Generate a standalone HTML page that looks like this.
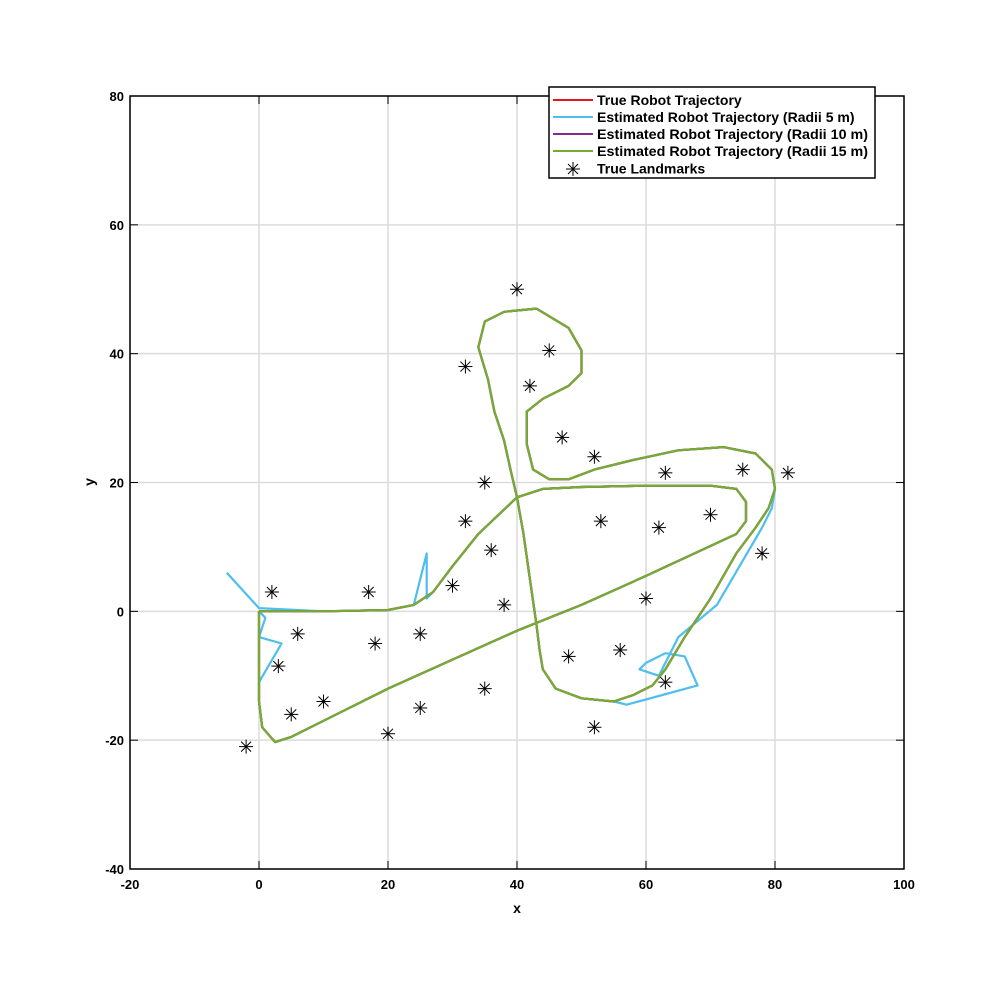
<!DOCTYPE html>
<html><head><meta charset="utf-8">
<style>
body{margin:0;background:#fff;}
svg{display:block;font-family:"Liberation Sans",Arial,sans-serif;}
</style></head>
<body>
<svg id="chart" width="1000" height="1000" viewBox="0 0 1000 1000" xmlns="http://www.w3.org/2000/svg">
<rect x="0" y="0" width="1000" height="1000" fill="#fff"/>
<g id="grid"></g>
<g id="series"></g>
<g id="axes"></g>
<g id="legend">
  <rect x="549" y="87" width="326" height="91" fill="#fff" stroke="#000" stroke-width="1.5"/>
  <line x1="553" y1="100" x2="593" y2="100" stroke="#e8131d" stroke-width="2"/>
  <text x="597" y="105" font-size="14" font-weight="bold">True Robot Trajectory</text>
  <line x1="553" y1="117" x2="593" y2="117" stroke="#4dbeee" stroke-width="2"/>
  <text x="597" y="122" font-size="14" font-weight="bold">Estimated Robot Trajectory (Radii 5 m)</text>
  <line x1="553" y1="134" x2="593" y2="134" stroke="#7e2f8e" stroke-width="2"/>
  <text x="597" y="139" font-size="14" font-weight="bold" textLength="271" lengthAdjust="spacingAndGlyphs">Estimated Robot Trajectory (Radii 10 m)</text>
  <line x1="553" y1="151" x2="593" y2="151" stroke="#77ac30" stroke-width="2"/>
  <text x="597" y="156" font-size="14" font-weight="bold" textLength="271" lengthAdjust="spacingAndGlyphs">Estimated Robot Trajectory (Radii 15 m)</text>
  <g stroke="#000" stroke-width="1">
    <line x1="566" y1="169" x2="580" y2="169"/><line x1="573" y1="162" x2="573" y2="176"/>
    <line x1="568" y1="164" x2="578" y2="174"/><line x1="578" y1="164" x2="568" y2="174"/>
  </g>
  <text x="597" y="173.5" font-size="14" font-weight="bold">True Landmarks</text>
</g>
</svg>
<script>
const xTicks=[-20,0,20,40,60,80,100];
const yTicks=[-40,-20,0,20,40,60,80];
const trueX=[0,10,20,24,27,30,34,40,44,50,60,70,74,75.5,75.5,74,60,50,40,30,20,10,5,2.5,0.5,0,0,0, 40,41,42,43,43.5,44,46,50,55,58,61,63,66,70,74,77,79,80,79.5,77,72,65,58,52,48,45,42.5,41.5,41.5,44,48,50,50,48,43,38,35,34,35.5,36.5,38,39,40];
const trueY=[0,0,0.2,1,3,7,12,17.7,19,19.3,19.5,19.5,19,17,14,12,5.5,1,-3,-7.5,-12,-17,-19.5,-20.3,-18,-14,-8,0, 17.7,12,5,-2,-6,-9,-12,-13.5,-14,-13,-11.5,-9,-4,2,9,13,16,19,22,24.5,25.5,25,23.5,22,20.5,20.5,22,26,31,33,35,37,40.5,44,47,46.5,45,41,36,31,26.5,22,17.7];
const r5X=[-5,0,10,20,24,26,26,27,30,34,40,44,50,60,70,74,75.5,75.5,74,60,50,40,30,20,10,5,2.5,0.5,0,0,3.5,0,1,0, 40,41,42,43,43.5,44,46,50,55,57,68,66,63,60,59,62,65,71,78,79.5,80,79.5,77,72,65,58,52,48,45,42.5,41.5,41.5,44,48,50,50,48,43,38,35,34,35.5,36.5,38,39,40];
const r5Y=[6,0.5,0,0.2,1,9,2,3,7,12,17.7,19,19.3,19.5,19.5,19,17,14,12,5.5,1,-3,-7.5,-12,-17,-19.5,-20.3,-18,-14,-11,-5,-4,-1,0, 17.7,12,5,-2,-6,-9,-12,-13.5,-14,-14.5,-11.5,-7,-6.5,-8,-9,-10,-4,1,13,16,19,22,24.5,25.5,25,23.5,22,20.5,20.5,22,26,31,33,35,37,40.5,44,47,46.5,45,41,36,31,26.5,22,17.7];
const r10X=[0,10,20,24,27,30,34,40,44,50,60,70,74,75.5,75.5,74,60,50,40,30,20,10,5,2.5,0.5,0,0,0, 40,41,42,43,43.5,44,46,50,55,58,61,63,66,70,74,77,79,80,79.5,77,72,65,58,52,48,45,42.5,41.5,41.5,44,48,50,50,48,43,38,35,34,35.5,36.5,38,39,40];
const r10Y=trueY.slice();
const r15X=trueX.slice();
const r15Y=trueY.slice();
const lmX=[40,32,45,42,47,52,63,75,82,35,32,36,53,62,70,78,30,38,60,2,17,6,18,25,3,48,56,63,35,10,25,5,20,52,-2];
const lmY=[50,38,40.5,35,27,24,21.5,22,21.5,20,14,9.5,14,13,15,9,4,1,2,3,3,-3.5,-5,-3.5,-8.5,-7,-6,-11,-12,-14,-15,-16,-19,-18,-21];

const NS="http://www.w3.org/2000/svg";
const X0=130,X1=904,Y0=869,Y1=96;
const sx=v=>X0+(v+20)/120*(X1-X0);
const sy=v=>Y0-(v+40)/120*(Y0-Y1);
function mk(tag,attrs,parent){const e=document.createElementNS(NS,tag);for(const k in attrs)e.setAttribute(k,attrs[k]);parent.appendChild(e);return e;}
const grid=document.getElementById('grid'),axes=document.getElementById('axes'),series=document.getElementById('series');
xTicks.forEach(t=>{
  const g=mk('line',{x1:sx(t),x2:sx(t),y1:Y1,y2:Y0,stroke:'#dcdcdc','stroke-width':1.5},grid);
  
  
  const tk=mk('line',{x1:sx(t),x2:sx(t),y1:Y0,y2:Y0-8,stroke:'#000','stroke-width':1},axes);
  
  
  const tk2=mk('line',{x1:sx(t),x2:sx(t),y1:Y1,y2:Y1+8,stroke:'#000','stroke-width':1},axes);
  
  
  const lb=mk('text',{x:sx(t),y:Y0+20,'text-anchor':'middle','font-size':13,'font-weight':'bold'},axes);
  lb.textContent=t;
  
  
});
yTicks.forEach(t=>{
  const g=mk('line',{x1:X0,x2:X1,y1:sy(t),y2:sy(t),stroke:'#dcdcdc','stroke-width':1.5},grid);
  
  
  const tk=mk('line',{x1:X0,x2:X0+8,y1:sy(t),y2:sy(t),stroke:'#000','stroke-width':1},axes);
  
  
  const tk2=mk('line',{x1:X1,x2:X1-8,y1:sy(t),y2:sy(t),stroke:'#000','stroke-width':1},axes);
  
  
  const lb=mk('text',{x:X0-6,y:sy(t)+5,'text-anchor':'end','font-size':13,'font-weight':'bold'},axes);
  lb.textContent=t;
  
  
});
const frame=mk('rect',{x:X0,y:Y1,width:X1-X0,height:Y0-Y1,fill:'none',stroke:'#000','stroke-width':1.5},axes);


const xl=mk('text',{x:517,y:913,'text-anchor':'middle','font-size':14,'font-weight':'bold'},axes);
xl.textContent='x';


const yl=mk('text',{x:94,y:482,'text-anchor':'middle','font-size':14,'font-weight':'bold',transform:'rotate(-90 94 482)'},axes);
yl.textContent='y';



function drawLine(xs,ys,color,name){
  const d=xs.map((x,i)=>(i===0||i===28&&xs.length===trueX.length?'M':'L')+sx(x).toFixed(1)+','+sy(ys[i]).toFixed(1)).join(' ');
  const p=mk('path',{d:d,fill:'none',stroke:color,'stroke-width':2.2,'stroke-linejoin':'round'},series);
  
  
}
function drawBlue(xs,ys,color,name){
  const d=xs.map((x,i)=>(i===0||i===34?'M':'L')+sx(x).toFixed(1)+','+sy(ys[i]).toFixed(1)).join(' ');
  const p=mk('path',{d:d,fill:'none',stroke:color,'stroke-width':2.2,'stroke-linejoin':'round'},series);
  
  
}
drawLine(trueX,trueY,'#e8131d','true-trajectory');
drawBlue(r5X,r5Y,'#4dbeee','estimated-trajectory-r5');
drawLine(r10X,r10Y,'#7e2f8e','estimated-trajectory-r10');
drawLine(r15X,r15Y,'#77ac30','estimated-trajectory-r15');
lmX.forEach((x,i)=>{
  const cx=sx(x),cy=sy(lmY[i]);
  const g=mk('g',{stroke:'#000','stroke-width':1},series);
  
  
  mk('line',{x1:cx-7,y1:cy,x2:cx+7,y2:cy},g);
  mk('line',{x1:cx,y1:cy-7,x2:cx,y2:cy+7},g);
  mk('line',{x1:cx-5,y1:cy-5,x2:cx+5,y2:cy+5},g);
  mk('line',{x1:cx+5,y1:cy-5,x2:cx-5,y2:cy+5},g);
});
</script>
</body></html>
